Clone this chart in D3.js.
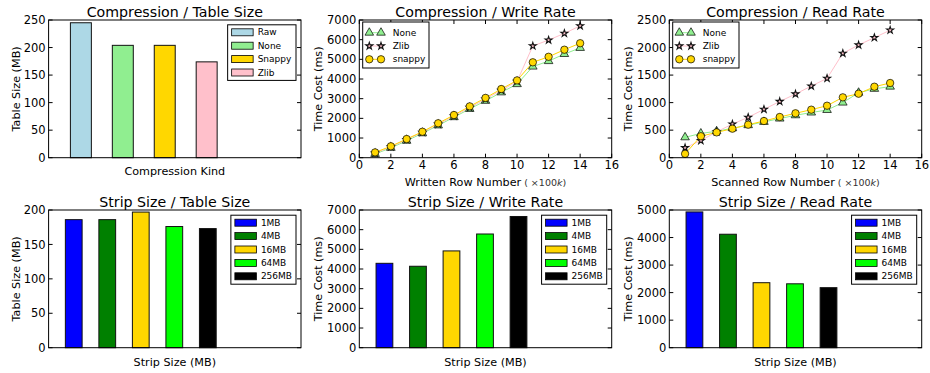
<!DOCTYPE html>
<html>
<head>
<meta charset="utf-8">
<script src="https://cdn.jsdelivr.net/npm/d3@7"></script>
<style>
  body { margin: 0; background: #fff; }
  svg { font-family: "DejaVu Sans", sans-serif; }
</style>
</head>
<body>
<svg id="chart" width="930" height="373"></svg>
<script>
const compKinds = ['Raw', 'None', 'Snappy', 'Zlib'];
const compTableSize = [245, 204, 204, 174];
const compColors = ['lightblue', 'lightgreen', 'gold', 'pink'];

const stripSizes = ['1MB', '4MB', '16MB', '64MB', '256MB'];
const stripTableSize = [186, 186, 197, 176, 173];
const stripWriteCost = [4290, 4140, 4920, 5780, 6670];
const stripReadCost = [4930, 4120, 2360, 2320, 2180];
const stripColors = ['blue', 'green', 'gold', 'lime', 'black'];

const rowNumbers = [1, 2, 3, 4, 5, 6, 7, 8, 9, 10, 11, 12, 13, 14];
const writeNone = [190, 500, 860, 1240, 1640, 2060, 2480, 2890, 3320, 3740, 4630, 4910, 5270, 5580];
const writeZlib = [230, 550, 920, 1290, 1700, 2120, 2550, 2980, 3420, 3880, 5680, 5980, 6320, 6700];
const writeSnappy = [270, 580, 950, 1320, 1750, 2170, 2610, 3040, 3490, 3930, 4850, 5130, 5490, 5820];
const readNone = [370, 440, 480, 535, 590, 650, 710, 770, 820, 866, 1000, 1180, 1250, 1290];
const readZlib = [180, 310, 470, 610, 733, 878, 1020, 1156, 1300, 1440, 1895, 2046, 2180, 2315];
const readSnappy = [70, 390, 460, 527, 600, 666, 739, 806, 872, 944, 1096, 1162, 1289, 1356];

const lineSeries = ['None', 'Zlib', 'snappy'];
const lineColors = ['lightgreen', 'pink', 'gold'];

const svg = d3.select('#chart');

const colLeft = [48.6, 359.3, 669.3];
const plotW = 252.4;
const rowTop = [20, 210];
const plotH = 137.7;
const tickFont = 11.5, labelFont = 11.2, titleFont = 14.2, legendFont = 9;

function frame(g, x, y, opts) {
  // y ticks, inside, both sides
  const yTicks = d3.range(0, opts.yMax + 1, opts.yStep);
  g.selectAll('.yl').data(yTicks).join('text')
    .attr('x', -3).attr('y', d => y(d)).attr('dy', '0.36em')
    .attr('text-anchor', 'end').attr('font-size', tickFont).text(d => d);
  g.selectAll('.ytl').data(yTicks).join('line')
    .attr('x1', 0).attr('x2', 4).attr('y1', d => y(d)).attr('y2', d => y(d))
    .attr('stroke', '#000');
  g.selectAll('.ytr').data(yTicks).join('line')
    .attr('x1', plotW).attr('x2', plotW - 4).attr('y1', d => y(d)).attr('y2', d => y(d))
    .attr('stroke', '#000');
  if (opts.xTicks) {
    g.selectAll('.xl').data(opts.xTicks).join('text')
      .attr('x', d => x(d)).attr('y', plotH + 11)
      .attr('text-anchor', 'middle').attr('font-size', tickFont).text(d => d);
    g.selectAll('.xtb').data(opts.xTicks).join('line')
      .attr('x1', d => x(d)).attr('x2', d => x(d)).attr('y1', plotH).attr('y2', plotH - 4)
      .attr('stroke', '#000');
    g.selectAll('.xtt').data(opts.xTicks).join('line')
      .attr('x1', d => x(d)).attr('x2', d => x(d)).attr('y1', 0).attr('y2', 4)
      .attr('stroke', '#000');
  }
  g.append('rect').attr('width', plotW).attr('height', plotH)
    .attr('fill', 'none').attr('stroke', '#000').attr('stroke-width', 1);

  g.append('text').attr('x', plotW / 2).attr('y', -3.2)
    .attr('text-anchor', 'middle').attr('font-size', titleFont).text(opts.title);

  const xl = g.append('text').attr('x', plotW / 2).attr('y', plotH + opts.xLabelY)
    .attr('text-anchor', 'middle').attr('font-size', labelFont).text(opts.xLabel);
  if (opts.xUnit) {
    xl.append('tspan').attr('font-size', 9.5).attr('fill', '#333').text(' ( \u00d7100');
    xl.append('tspan').attr('font-size', 9.5).attr('fill', '#333').attr('font-style', 'italic').text('k');
    xl.append('tspan').attr('font-size', 9.5).attr('fill', '#333').text(')');
  }
  g.append('text')
    .attr('transform', `translate(${opts.yLabelX},${plotH / 2}) rotate(-90)`)
    .attr('dy', '0.35em').attr('text-anchor', 'middle').attr('font-size', labelFont)
    .text(opts.yLabel);
}

function barPanel(col, row, names, values, colors, opts) {
  const g = svg.append('g').attr('transform', `translate(${colLeft[col]},${rowTop[row]})`);
  const x = d3.scaleLinear().domain(opts.xDomain).range([0, plotW]);
  const y = d3.scaleLinear().domain([0, opts.yMax]).range([plotH, 0]);

  g.selectAll('.bar').data(values).join('rect')
    .attr('class', 'bar')
    .attr('x', (d, i) => x(i))
    .attr('y', d => y(d))
    .attr('width', x(0.5) - x(0))
    .attr('height', d => plotH - y(d))
    .attr('fill', (d, i) => colors[i])
    .attr('stroke', '#111').attr('stroke-width', 1);

  frame(g, x, y, opts);

  // legend
  const lg = g.append('g');
  const rowsG = lg.selectAll('g').data(names).join('g')
    .attr('transform', (d, i) => `translate(0,${i * 13.4})`);
  rowsG.append('rect').attr('x', 0).attr('y', -3.5).attr('width', 21.5).attr('height', 7)
    .attr('fill', (d, i) => colors[i]).attr('stroke', '#000').attr('stroke-width', 0.8);
  rowsG.append('text').attr('x', opts.legTextX).attr('dy', '0.35em')
    .attr('font-size', legendFont).text(d => d);
  const bb = lg.node().getBBox();
  const boxW = bb.width + 8;
  const boxLeft = plotW - 5 - boxW;
  lg.attr('transform', `translate(${boxLeft + 4},${opts.legY0})`);
  g.insert('rect', 'g:last-of-type')
    .attr('x', boxLeft).attr('y', opts.legY0 - 7.5)
    .attr('width', boxW).attr('height', names.length * 13.4 + 2)
    .attr('fill', '#fff').attr('stroke', '#000').attr('stroke-width', 1);
  lg.raise();
}

const star = d3.symbol().type(d3.symbolStar).size(15);
const tri = d3.symbol().type(d3.symbolTriangle).size(32);

function marker(sel, k) {
  if (k === 0) {
    sel.append('path').attr('d', tri).attr('fill', 'lightgreen')
      .attr('stroke', '#000').attr('stroke-width', 0.7);
  } else if (k === 1) {
    sel.append('path').attr('d', star).attr('fill', 'pink')
      .attr('stroke', '#111').attr('stroke-width', 1.1);
  } else {
    sel.append('circle').attr('r', 3.7).attr('fill', 'gold')
      .attr('stroke', '#000').attr('stroke-width', 0.7);
  }
}

function linePanel(col, series, opts) {
  const g = svg.append('g').attr('transform', `translate(${colLeft[col]},${rowTop[0]})`);
  const x = d3.scaleLinear().domain([0, 16]).range([0, plotW]);
  const y = d3.scaleLinear().domain([0, opts.yMax]).range([plotH, 0]);
  const line = d3.line().x((d, i) => x(rowNumbers[i])).y(d => y(d));

  series.forEach((vals, k) => {
    g.append('path').datum(vals).attr('d', line)
      .attr('fill', 'none').attr('stroke', lineColors[k]).attr('stroke-width', 1);
  });
  series.forEach((vals, k) => {
    const pts = g.selectAll(null).data(vals).join('g')
      .attr('transform', (d, i) => `translate(${x(rowNumbers[i])},${y(d)})`);
    marker(pts, k);
  });

  frame(g, x, y, Object.assign({ xTicks: d3.range(0, 17, 2) }, opts));

  // legend
  const lx = 3.4, ly = 2;
  g.append('rect').attr('x', lx).attr('y', ly).attr('width', 66.3).attr('height', 46)
    .attr('fill', '#fff').attr('stroke', '#000').attr('stroke-width', 1);
  lineSeries.forEach((name, k) => {
    const cy = ly + 10.7 + k * 13.3;
    g.append('line').attr('x1', lx + 6.6).attr('x2', lx + 18.3)
      .attr('y1', cy).attr('y2', cy).attr('stroke', lineColors[k]).attr('stroke-width', 1);
    [lx + 6.6, lx + 18.3].forEach(mx => {
      marker(g.append('g').attr('transform', `translate(${mx},${cy})`), k);
    });
    g.append('text').attr('x', lx + 30).attr('y', cy).attr('dy', '0.35em')
      .attr('font-size', legendFont).text(name);
  });
}

barPanel(0, 0, compKinds, compTableSize, compColors, {
  xDomain: [-0.52, 5.5], yMax: 250, yStep: 50, title: 'Compression / Table Size',
  xLabel: 'Compression Kind', xLabelY: 16.8, yLabel: 'Table Size (MB)', yLabelX: -32.6,
  legTextX: 26, legY0: 12.3
});
linePanel(1, [writeNone, writeZlib, writeSnappy], {
  yMax: 7000, yStep: 1000, title: 'Compression / Write Rate',
  xLabel: 'Written Row Number', xUnit: true, xLabelY: 28, yLabel: 'Time Cost (ms)', yLabelX: -41
});
linePanel(2, [readNone, readZlib, readSnappy], {
  yMax: 2500, yStep: 500, title: 'Compression / Read Rate',
  xLabel: 'Scanned Row Number', xUnit: true, xLabelY: 28, yLabel: 'Time Cost (ms)', yLabelX: -41
});
barPanel(0, 1, stripSizes, stripTableSize, stripColors, {
  xDomain: [-0.5, 7.03], yMax: 200, yStep: 50, title: 'Strip Size / Table Size',
  xLabel: 'Strip Size (MB)', xLabelY: 18, yLabel: 'Table Size (MB)', yLabelX: -32.6,
  legTextX: 26, legY0: 12.7
});
barPanel(1, 1, stripSizes, stripWriteCost, stripColors, {
  xDomain: [-0.5, 7.03], yMax: 7000, yStep: 1000, title: 'Strip Size / Write Rate',
  xLabel: 'Strip Size (MB)', xLabelY: 18, yLabel: 'Time Cost (ms)', yLabelX: -41,
  legTextX: 26, legY0: 12.7
});
barPanel(2, 1, stripSizes, stripReadCost, stripColors, {
  xDomain: [-0.5, 7.03], yMax: 5000, yStep: 1000, title: 'Strip Size / Read Rate',
  xLabel: 'Strip Size (MB)', xLabelY: 18, yLabel: 'Time Cost (ms)', yLabelX: -41,
  legTextX: 26, legY0: 12.7
});
</script>
</body>
</html>
